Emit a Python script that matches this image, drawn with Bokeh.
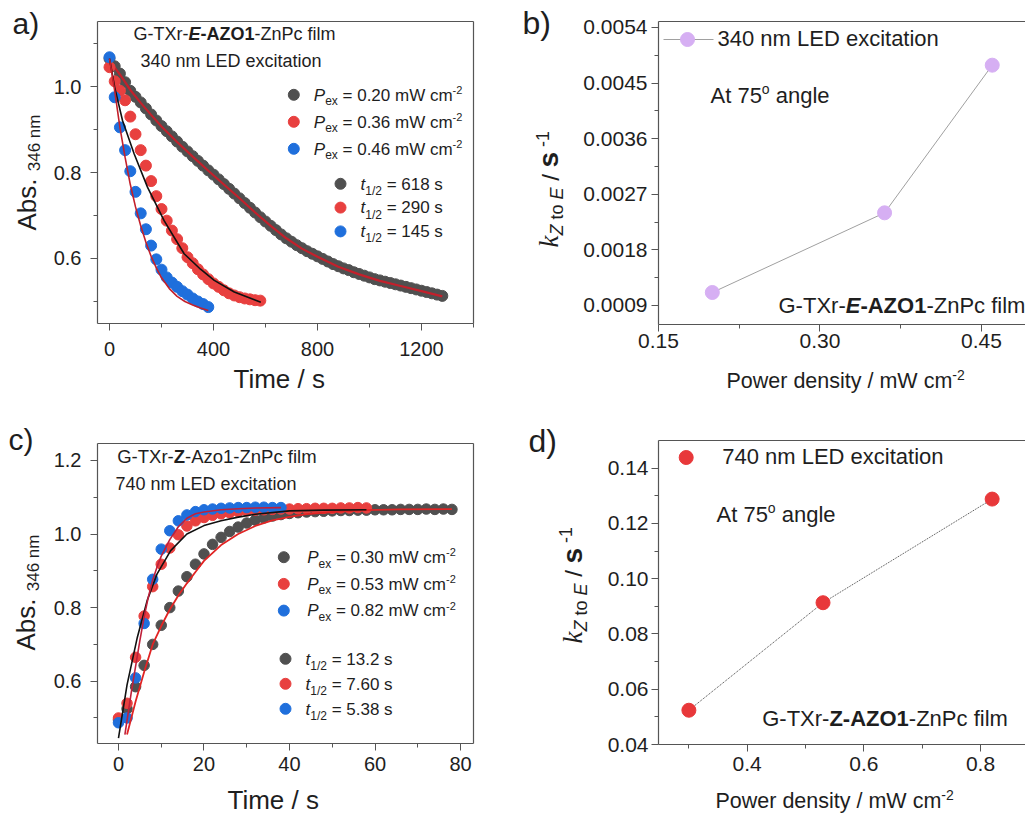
import math
from bokeh.plotting import figure
from bokeh.models import Range1d, FixedTicker, PrintfTickFormatter, Label, LinearAxis
from bokeh.layouts import column, row
from bokeh.embed import file_html
from bokeh.resources import INLINE

# ------------------------------------------------------------------ data
# panel a: 340 nm excitation, E -> Z decay
a_power = ["0.20", "0.36", "0.46"]
a_half = ["618", "290", "145"]
a_t_grey = [0, 20, 40, 60, 80, 100, 120, 140, 160, 180, 200, 220, 240, 260, 280, 300,
            320, 340, 360, 380, 400, 420, 440, 460, 480, 500, 520, 540, 560, 580, 600,
            620, 640, 660, 680, 700, 720, 740, 760, 780, 800, 820, 840, 860, 880, 900,
            920, 940, 960, 980, 1000, 1020, 1040, 1060, 1080, 1100, 1120, 1140, 1160,
            1180, 1200, 1220, 1240, 1260, 1280]
a_v_grey = [1.065, 1.047, 1.030, 1.010, 0.990, 0.976, 0.963, 0.949, 0.935, 0.921, 0.908,
            0.896, 0.884, 0.872, 0.860, 0.849, 0.838, 0.827, 0.816, 0.805, 0.795, 0.784,
            0.773, 0.762, 0.751, 0.740, 0.729, 0.718, 0.707, 0.696, 0.686, 0.676, 0.666,
            0.656, 0.647, 0.639, 0.631, 0.624, 0.617, 0.611, 0.605, 0.599, 0.593, 0.587,
            0.582, 0.577, 0.573, 0.568, 0.564, 0.560, 0.556, 0.552, 0.549, 0.546, 0.543,
            0.540, 0.537, 0.534, 0.531, 0.528, 0.525, 0.522, 0.519, 0.516, 0.513]
a_t_red = [0, 20, 40, 60, 80, 100, 120, 140, 160, 180, 200, 220, 240, 260, 280, 300,
           320, 340, 360, 380, 400, 420, 440, 460, 480, 500, 520, 540, 560, 580]
a_v_red = [1.045, 1.012, 0.990, 0.968, 0.930, 0.889, 0.852, 0.816, 0.780, 0.745, 0.715,
           0.688, 0.665, 0.645, 0.624, 0.603, 0.589, 0.575, 0.563, 0.552, 0.542, 0.534,
           0.526, 0.519, 0.514, 0.510, 0.507, 0.505, 0.503, 0.502]
a_t_blue = [0, 20, 40, 60, 80, 100, 120, 140, 160, 180, 200, 220, 240, 260, 280, 300,
            320, 340, 360, 380]
a_v_blue = [1.068, 0.975, 0.905, 0.852, 0.803, 0.755, 0.705, 0.668, 0.630, 0.598, 0.574,
            0.556, 0.544, 0.534, 0.524, 0.516, 0.507, 0.500, 0.494, 0.487]
a_fit_grey_t = [0, 40, 80, 120, 160, 200, 260, 320, 380, 440, 500, 560, 620, 680, 740,
                800, 880, 960, 1040, 1120, 1200, 1280]
a_fit_grey_v = [1.060, 1.028, 0.992, 0.962, 0.934, 0.907, 0.871, 0.837, 0.804, 0.772,
                0.740, 0.707, 0.676, 0.647, 0.623, 0.604, 0.581, 0.563, 0.548, 0.536,
                0.524, 0.512]
a_fit_red_t = [0, 20, 50, 95, 146, 210, 287, 350, 403, 480, 582]
a_fit_red_v = [1.065, 0.998, 0.921, 0.843, 0.766, 0.688, 0.611, 0.575, 0.549, 0.522, 0.498]
a_fit_blue_t = [0, 20, 40, 60, 80, 100, 120, 140, 160, 180, 200, 230, 260, 290, 320, 350, 380]
a_fit_blue_v = [1.065, 0.990, 0.905, 0.835, 0.772, 0.720, 0.676, 0.638, 0.605, 0.578,
                0.555, 0.530, 0.512, 0.500, 0.492, 0.485, 0.479]

# panel b: rate constants at 340 nm
b_power = [0.20, 0.36, 0.46]
b_k = [0.00111, 0.00240, 0.00479]

# panel c: 740 nm excitation, Z -> E recovery
c_power = ["0.30", "0.53", "0.82"]
c_half = ["13.2", "7.60", "5.38"]
c_t_grey = [0, 2, 4, 6, 8, 10, 12, 14, 16, 18, 20, 22, 24, 26, 28, 30, 32, 34, 36, 38,
            40, 42, 44, 46, 48, 50, 52, 54, 56, 58, 60, 62, 64, 66, 68, 70, 72, 74, 76, 78]
c_v_grey = [0.495, 0.525, 0.585, 0.643, 0.700, 0.752, 0.800, 0.845, 0.884, 0.918, 0.946,
            0.972, 0.991, 1.007, 1.019, 1.030, 1.038, 1.044, 1.049, 1.053, 1.056, 1.058,
            1.060, 1.061, 1.062, 1.063, 1.064, 1.064, 1.065, 1.065, 1.066, 1.066, 1.066,
            1.067, 1.067, 1.067, 1.068, 1.067, 1.068, 1.067]
c_t_red = [0, 2, 4, 6, 8, 10, 12, 14, 16, 18, 20, 22, 24, 26, 28, 30, 32, 34, 36, 38,
           40, 42, 44, 46, 48, 50, 52, 54, 56, 58]
c_v_red = [0.500, 0.540, 0.665, 0.777, 0.857, 0.918, 0.962, 0.998, 1.022, 1.036, 1.045,
           1.051, 1.055, 1.058, 1.061, 1.063, 1.065, 1.066, 1.067, 1.068, 1.068, 1.069,
           1.069, 1.070, 1.070, 1.070, 1.071, 1.071, 1.072, 1.071]
c_t_blue = [0, 2, 4, 6, 8, 10, 12, 14, 16, 18, 20, 22, 24, 26, 28, 30, 32, 34, 36, 38]
c_v_blue = [0.487, 0.500, 0.609, 0.757, 0.877, 0.959, 1.009, 1.036, 1.052, 1.061, 1.066,
            1.068, 1.070, 1.071, 1.072, 1.072, 1.073, 1.073, 1.072, 1.072]
c_fit_red_t = [0, 2, 4.4, 6.7, 9, 12.2, 16, 20, 24, 28, 32, 40, 48, 58]
c_fit_red_v = [0.445, 0.590, 0.719, 0.819, 0.891, 0.955, 1.000, 1.023, 1.036, 1.046,
               1.054, 1.063, 1.065, 1.066]
c_fit_blue_t = [1.5, 3, 4, 5, 6, 7, 8, 9, 10, 12, 14, 16, 18, 20, 24, 28, 32, 38]
c_fit_blue_v = [0.455, 0.570, 0.640, 0.710, 0.775, 0.830, 0.875, 0.910, 0.940, 0.985,
                1.020, 1.043, 1.055, 1.060, 1.066, 1.069, 1.071, 1.072]
c_fit_grey_t = [2, 3, 4, 6, 8, 10, 12, 14, 16, 18, 20, 24, 28, 32, 36, 40, 44, 50, 58, 66, 78]
c_fit_grey_v = [0.455, 0.500, 0.545, 0.625, 0.700, 0.750, 0.795, 0.833, 0.866, 0.897,
                0.927, 0.970, 1.000, 1.022, 1.037, 1.047, 1.054, 1.060, 1.065, 1.067, 1.068]

# panel d: rate constants at 740 nm
d_power = [0.30, 0.53, 0.82]
d_k = [0.0524, 0.0913, 0.1288]

# tick labels
a_xticks = [0, 400, 800, 1200]
a_yticks = [0.6, 0.8, 1.0]
b_xticks = [0.15, 0.30, 0.45]
b_yticks = [0.0009, 0.0018, 0.0027, 0.0036, 0.0045, 0.0054]
c_xticks = [0, 20, 40, 60, 80]
c_yticks = [0.6, 0.8, 1.0, 1.2]
d_xticks = [0.4, 0.6, 0.8]
d_yticks = [0.04, 0.06, 0.08, 0.10, 0.12, 0.14]

# ------------------------------------------------------------------ style
GREY = "#505050"
RED = "#e8403f"
BLUE = "#1f6fdc"
FITRED = "#c3202b"
LAV = "#d6aff3"
TXT = "#1e1e1e"
AXC = "#555555"
SANS = "Liberation Sans"
SERIF = "Liberation Serif"
BSH = 0.34   # renderer places 'alphabetic' text this fraction of its size lower

AR = {' ': 278, '-': 333, '.': 278, '/': 278, '=': 584, '(': 333, ')': 333,
      'A': 667, 'D': 722, 'E': 667, 'G': 778, 'L': 556, 'O': 778, 'P': 667, 'T': 611,
      'W': 944, 'X': 667, 'Z': 611,
      'a': 556, 'b': 556, 'c': 500, 'd': 556, 'e': 556, 'f': 278, 'g': 556, 'i': 222,
      'l': 222, 'm': 833, 'n': 556, 'o': 556, 'r': 333, 's': 500, 't': 278, 'w': 722,
      'x': 500, 'y': 500, 'z': 500}
AB = {'A': 722, 's': 556, 'o': 611, 'r': 389, 'i': 278, 'l': 278, 'n': 611, 'e': 556,
      't': 333, 'c': 556, 'm': 889, 'f': 333}
TI = {'k': 444}


def tw(s, size, style, fam):
    tot = 0
    for ch in s:
        if fam == "serif":
            w = TI.get(ch, 500)
        elif "bold" in style:
            w = AB.get(ch, AR.get(ch, 556))
        else:
            w = AR.get(ch, 556)
        tot += w
    return tot * size / 1000.0


class G:
    """maps page pixels of a panel box to that panel's data coordinates"""
    def __init__(s, L, T, R, B, xr, yr):
        s.L, s.T, s.R, s.B, s.xr, s.yr = L, T, R, B, xr, yr

    def x(s, px):
        return s.xr[0] + (px - s.L) * (s.xr[1] - s.xr[0]) / (s.R - s.L)

    def y(s, py):
        return s.yr[1] - (py - s.T) * (s.yr[1] - s.yr[0]) / (s.B - s.T)


def rich(p, g, px, py, pieces, angle=0.0):
    cur = px if angle == 0 else py
    for piece in pieces:
        txt, size, style, dy = piece[:4]
        fam = piece[4] if len(piece) > 4 else "sans"
        full = tw(txt, size, style, fam)
        s = txt.strip()
        lead = tw(txt[:len(txt) - len(txt.lstrip())], size, style, fam)
        if s:
            if angle == 0:
                lx, ly = cur + lead, py + dy - BSH * size
            else:
                lx, ly = px + dy - BSH * size, cur - lead
            p.add_layout(Label(x=g.x(lx), y=g.y(ly), text=s, angle=angle,
                               text_font=SERIF if fam == "serif" else SANS,
                               text_font_size=f"{size}px", text_font_style=style,
                               text_color=TXT, text_baseline="alphabetic",
                               text_align="left"))
        cur = cur + full if angle == 0 else cur - full


def box_axis(fixed, bounds):
    ax = LinearAxis(fixed_location=fixed, bounds=bounds, ticker=FixedTicker(ticks=[]),
                    major_tick_line_color=None, minor_tick_line_color=None,
                    major_label_text_font_size="0px", axis_line_color=AXC,
                    axis_line_width=1.2)
    return ax


def mk(ox, oy, w, h, g, xt, xm, yt, ym, xfmt, yfmt, xs, ys, fs, right_line=True):
    p = figure(width=w, height=h,
               x_range=Range1d(g.x(ox), g.x(ox + w)),
               y_range=Range1d(g.y(oy + h), g.y(oy)),
               output_backend="svg", toolbar_location=None, min_border=0)
    p.xgrid.visible = False
    p.ygrid.visible = False
    p.outline_line_color = None
    p.background_fill_color = "white"
    p.border_fill_color = "white"
    xa, ya = p.xaxis[0], p.yaxis[0]
    xa.fixed_location = g.yr[0]
    xa.bounds = g.xr
    ya.fixed_location = g.xr[0]
    ya.bounds = g.yr
    for ax, t, m, fmt, st in ((xa, xt, xm, xfmt, xs), (ya, yt, ym, yfmt, ys)):
        ax.ticker = FixedTicker(ticks=t, minor_ticks=m)
        ax.formatter = PrintfTickFormatter(format=fmt)
        ax.axis_line_color = AXC
        ax.axis_line_width = 1.2
        ax.major_tick_line_color = AXC
        ax.minor_tick_line_color = AXC
        ax.major_tick_out = 7
        ax.major_tick_in = 0
        ax.minor_tick_out = 4
        ax.minor_tick_in = 0
        ax.major_label_text_font = SANS
        ax.major_label_text_font_size = fs
        ax.major_label_text_color = TXT
        ax.major_label_standoff = st
    p.add_layout(box_axis(g.yr[1], g.xr), "above")
    if right_line:
        p.add_layout(box_axis(g.xr[1], g.yr), "right")
    return p


cols = [GREY, RED, BLUE]

# ------------------------------------------------------------------ panel a
ga = G(97, 21, 473, 323, (-46.2, 1400.0), (0.4488, 1.1512))
pa = mk(0, 0, 520, 410, ga, a_xticks, [200, 600, 1000, 1400], a_yticks,
        [0.5, 0.7, 0.9, 1.1], "%d", "%.1f", 11, 9, "20px")
pa.scatter(a_t_grey, a_v_grey, size=11, color=GREY)
pa.line(a_fit_grey_t, a_fit_grey_v, line_color=FITRED, line_width=2.2)
pa.scatter(a_t_red, a_v_red, size=11, color=RED)
pa.scatter(a_t_blue, a_v_blue, size=11, color=BLUE)
pa.line(a_fit_red_t, a_fit_red_v, line_color="#111111", line_width=1.6)
pa.line(a_fit_blue_t, a_fit_blue_v, line_color=FITRED, line_width=1.6)
for i in range(3):
    pa.scatter([ga.x(293.3)], [ga.y(94.3 + i * 27)], size=11, color=cols[i])
    pa.scatter([ga.x(340)], [ga.y(183.3 + i * 23.8)], size=11, color=cols[i])

rich(pa, ga, 133, 40, [("G-TXr-", 18, "normal", 0), ("E", 18, "bold italic", 0),
                       ("-AZO1", 18, "bold", 0), ("-ZnPc film", 18, "normal", 0)])
rich(pa, ga, 140, 67, [("340 nm LED excitation", 18, "normal", 0)])
for i in range(3):
    my = 94.3 + i * 27
    rich(pa, ga, 313.3, my + 6, [("P", 17, "italic", 0), ("ex", 12, "normal", 4.5),
                                  (" = " + a_power[i] + " mW cm", 17, "normal", 0),
                                  ("-2", 11, "normal", -7)])
for i in range(3):
    my = 183.3 + i * 23.8
    rich(pa, ga, 360, my + 6, [("t", 17, "italic", 0), ("1/2", 12, "normal", 5),
                                (" = " + a_half[i] + " s", 17, "normal", 0)])
rich(pa, ga, 35, 230, [("Abs. ", 26, "normal", 0), ("346 nm", 17, "normal", 5)],
     angle=math.pi / 2)
rich(pa, ga, 233, 387, [("Time / s", 26, "normal", 0)])
rich(pa, ga, 12, 33, [("a)", 30, "normal", 0)])

# ------------------------------------------------------------------ panel b
gb = G(658, 21, 1025, 324, (0.15, 0.4909), (0.000592, 0.005497))
pb = mk(520, 0, 505, 410, gb, b_xticks, [0.225, 0.375], b_yticks,
        [0.00135, 0.00225, 0.00315, 0.00405, 0.00495], "%.2f", "%.4f", 2, 4, "21px",
        right_line=False)
pb.line(b_power, b_k, line_color="#a0a0a0", line_width=1)
pb.scatter(b_power, b_k, size=14, color=LAV)
pb.line([gb.x(663), gb.x(713)], [gb.y(39), gb.y(39)], line_color="#a0a0a0", line_width=1)
pb.scatter([gb.x(687)], [gb.y(39)], size=14, color=LAV)
rich(pb, gb, 717, 45, [("340 nm LED excitation", 22, "normal", 0)])
rich(pb, gb, 710, 102, [("At 75", 22, "normal", 0), ("o", 14, "normal", -9),
                        (" angle", 22, "normal", 0)])
rich(pb, gb, 778, 312, [("G-TXr-", 22, "normal", 0), ("E", 22, "bold italic", 0),
                        ("-AZO1", 22, "bold", 0), ("-ZnPc film", 22, "normal", 0)])
rich(pb, gb, 726, 388, [("Power density / mW cm", 21.5, "normal", 0),
                        ("-2", 14, "normal", -9)])
rich(pb, gb, 558, 247, [("k", 27, "italic", 0, "serif"), ("Z", 18, "italic", 5),
                        (" to ", 18, "normal", 5), ("E", 18, "italic", 5),
                        (" / ", 24, "normal", 0), ("s", 28, "bold", 0),
                        (" -1", 18, "normal", -10)], angle=math.pi / 2)
rich(pb, gb, 522, 33, [("b)", 32, "normal", 0)])

# ------------------------------------------------------------------ panel c
gc = G(97, 443, 473, 743, (-4.91, 83.04), (0.4306, 1.2462))
pc = mk(0, 410, 520, 404, gc, c_xticks, [10, 30, 50, 70], c_yticks,
        [0.5, 0.7, 0.9, 1.1], "%d", "%.1f", 6, 9, "20px")
pc.scatter(c_t_grey, c_v_grey, size=10.5, color=GREY)
pc.scatter(c_t_red, c_v_red, size=10.5, color=RED)
pc.scatter(c_t_blue, c_v_blue, size=10.5, color=BLUE)
pc.line(c_fit_grey_t, c_fit_grey_v, line_color="#e02424", line_width=1.8)
pc.line(c_fit_red_t, c_fit_red_v, line_color="#111111", line_width=1.6)
pc.line(c_fit_blue_t, c_fit_blue_v, line_color="#c0203a", line_width=1.6)
for i in range(3):
    pc.scatter([gc.x(283.3)], [gc.y(556.7 + i * 26.7)], size=11, color=cols[i])
    pc.scatter([gc.x(285)], [gc.y(658.3 + i * 25)], size=11, color=cols[i])

rich(pc, gc, 116.7, 462, [("G-TXr-", 18.5, "normal", 0), ("Z", 18.5, "bold", 0),
                          ("-Azo1-ZnPc film", 18.5, "normal", 0)])
rich(pc, gc, 115, 490, [("740 nm LED excitation", 18, "normal", 0)])
for i in range(3):
    my = 556.7 + i * 26.7
    rich(pc, gc, 306.7, my + 6, [("P", 17, "italic", 0), ("ex", 12, "normal", 4.5),
                                  (" = " + c_power[i] + " mW cm", 17, "normal", 0),
                                  ("-2", 11, "normal", -7)])
for i in range(3):
    my = 658.3 + i * 25
    rich(pc, gc, 305, my + 6, [("t", 17, "italic", 0), ("1/2", 12, "normal", 5),
                                (" = " + c_half[i] + " s", 17, "normal", 0)])
rich(pc, gc, 34, 650, [("Abs. ", 26, "normal", 0), ("346 nm", 17, "normal", 5)],
     angle=math.pi / 2)
rich(pc, gc, 227, 808, [("Time / s", 26, "normal", 0)])
rich(pc, gc, 8, 449, [("c)", 30, "normal", 0)])

# ------------------------------------------------------------------ panel d
gd = G(658, 440, 1025, 744, (0.2479, 0.8772), (0.04, 0.1500))
pd_ = mk(520, 410, 505, 404, gd, d_xticks, [0.3, 0.5, 0.7], d_yticks,
         [0.05, 0.07, 0.09, 0.11, 0.13], "%.1f", "%.2f", 5, 3, "21px", right_line=False)
pd_.line(d_power, d_k, line_color="#444444", line_width=1, line_dash="1 1")
pd_.scatter(d_power, d_k, size=14, color="#e8383a")
pd_.scatter([gd.x(685.7)], [gd.y(457)], size=14, color="#e8383a")
rich(pd_, gd, 721.7, 463.5, [("740 nm LED excitation", 22, "normal", 0)])
rich(pd_, gd, 716, 521, [("At 75", 22, "normal", 0), ("o", 14, "normal", -9),
                         (" angle", 22, "normal", 0)])
rich(pd_, gd, 761.7, 725, [("G-TXr-", 22, "normal", 0), ("Z-AZO1", 22, "bold", 0),
                           ("-ZnPc film", 22, "normal", 0)])
rich(pd_, gd, 715, 808, [("Power density / mW cm", 21.5, "normal", 0),
                         ("-2", 14, "normal", -9)])
rich(pd_, gd, 581.5, 643, [("k", 27, "italic", 0, "serif"), ("Z", 18, "italic", 5),
                           (" to ", 18, "normal", 5), ("E", 18, "italic", 5),
                           (" / ", 24, "normal", 0), ("s", 28, "bold", 0),
                           (" -1", 18, "normal", -10)], angle=math.pi / 2)
rich(pd_, gd, 528, 451.7, [("d)", 32, "normal", 0)])

layout = column(row(pa, pb), row(pc, pd_))
open("out.html", "w").write(file_html(layout, INLINE))
